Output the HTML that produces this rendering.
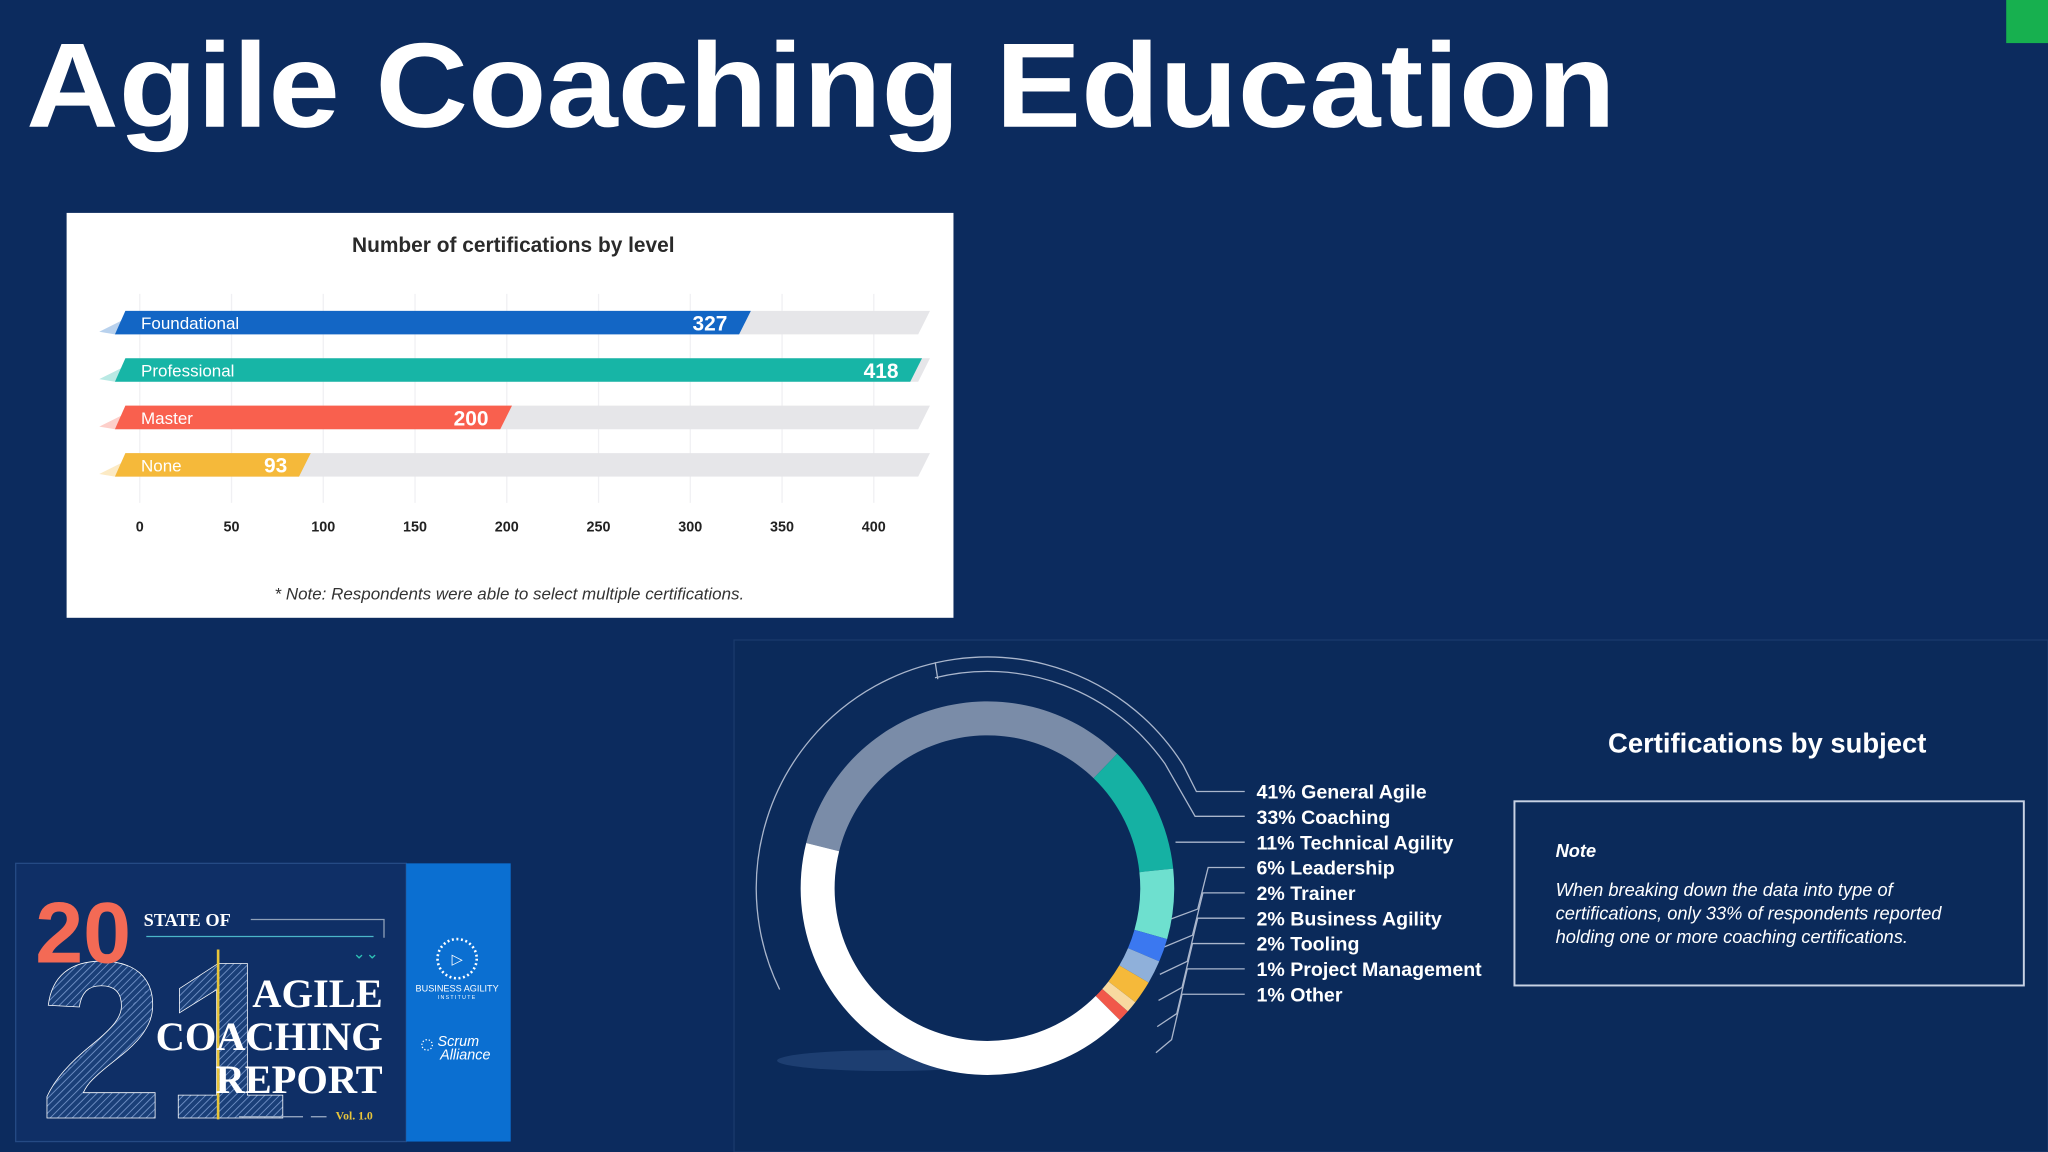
<!DOCTYPE html>
<html><head><meta charset="utf-8">
<style>
html,body{margin:0;padding:0;background:#0c2b5e;overflow:hidden}
svg{display:block}
text{font-family:"Liberation Sans",sans-serif}
</style></head>
<body>
<svg id="root" width="2048" height="1152" viewBox="0 0 1568 882" xmlns="http://www.w3.org/2000/svg">
  <defs>
    <pattern id="stripes" width="4" height="4" patternUnits="userSpaceOnUse" patternTransform="rotate(45)">
      <rect width="4" height="4" fill="#1a3f78"/>
      <line x1="0" y1="0" x2="0" y2="4" stroke="#6f8fc4" stroke-width="1.4"/>
    </pattern>
  </defs>
  <rect x="0" y="0" width="1568" height="882" fill="#0c2b5e"/>
  <rect x="1536" y="0" width="32" height="33" fill="#17b04f"/>
  <text x="20" y="97" font-size="92" font-weight="700" fill="#ffffff" textLength="1217" lengthAdjust="spacingAndGlyphs">Agile Coaching Education</text>

  <rect x="562" y="490" width="1006" height="392" fill="#0b2a5a" stroke="#1a3a6c" stroke-width="1"/>

  <g>
    <rect x="51" y="163" width="679" height="310" fill="#ffffff"/>
    <text x="393" y="193" font-size="16" font-weight="700" fill="#2a2a2a" text-anchor="middle">Number of certifications by level</text>
    <g id="grid"></g>
    <g id="bars"></g>
    <g id="ticks"></g>
    <text x="390" y="459" font-size="13" font-style="italic" fill="#333" text-anchor="middle">* Note: Respondents were able to select multiple certifications.</text>
  </g>

  <g>
    <ellipse cx="680" cy="812" rx="85" ry="8" fill="#2a4d80" opacity="0.6"/>
    <g id="decor" fill="none" stroke="#aab6cc" stroke-width="1"></g>
    <g id="slices"></g>
    <g id="labels"></g>
  </g>
  <text x="1353" y="576" font-size="21" font-weight="700" fill="#ffffff" text-anchor="middle">Certifications by subject</text>
  <g>
    <rect x="1159.5" y="613.5" width="390" height="141" fill="none" stroke="#c8d2e4" stroke-width="1.5"/>
    <text x="1191" y="656" font-size="14" font-weight="700" font-style="italic" fill="#ffffff">Note</text>
    <text font-size="14" font-style="italic" fill="#ffffff">
      <tspan x="1191" y="686">When breaking down the data into type of</tspan>
      <tspan x="1191" y="704">certifications, only 33% of respondents reported</tspan>
      <tspan x="1191" y="722">holding one or more coaching certifications.</tspan>
    </text>
  </g>

  <g>
    <rect x="12" y="661" width="299" height="213" fill="#0f2f66" stroke="#254a84" stroke-width="1"/>
    <rect x="311" y="661" width="80" height="213" fill="#0b6fd1"/>
    <text x="30" y="856" font-size="172" font-weight="700" fill="url(#stripes)" stroke="#ffffff" stroke-width="0.6">21</text>
    <line x1="167" y1="727" x2="167" y2="857" stroke="#e8c53a" stroke-width="2"/>
    <text x="27" y="737" font-size="66" font-weight="700" fill="#f36a55">20</text>
    <text x="110" y="709" font-size="14" font-weight="700" fill="#ffffff" style="font-family:'Liberation Serif',serif">STATE OF</text>
    <polyline points="192,704 294,704 294,718" fill="none" stroke="#8fa0b8" stroke-width="1"/>
    <line x1="112" y1="717" x2="286" y2="717" stroke="#4bb6c9" stroke-width="1"/>
    <text x="280" y="734" font-size="12" fill="#2ec4b6" text-anchor="middle">⌄⌄</text>
    <g font-size="31" font-weight="700" fill="#ffffff" text-anchor="end">
      <text x="293" y="771" style="font-family:'Liberation Serif',serif">AGILE</text>
      <text x="293" y="804" style="font-family:'Liberation Serif',serif">COACHING</text>
      <text x="293" y="837" style="font-family:'Liberation Serif',serif">REPORT</text>
    </g>
    <line x1="183" y1="855" x2="232" y2="855" stroke="#a0b0c8" stroke-width="1"/>
    <line x1="238" y1="855" x2="250" y2="855" stroke="#a0b0c8" stroke-width="1"/>
    <text x="257" y="857" font-size="9" font-weight="700" fill="#e8c53a" style="font-family:'Liberation Serif',serif">Vol. 1.0</text>
    <circle cx="350" cy="734" r="15" fill="none" stroke="#ffffff" stroke-width="2" stroke-dasharray="1.5 2"/>
    <text x="350" y="738" font-size="11" fill="#ffffff" text-anchor="middle">▷</text>
    <text x="350" y="759" font-size="7" fill="#ffffff" text-anchor="middle">BUSINESS AGILITY</text>
    <text x="350" y="765" font-size="4" fill="#ffffff" text-anchor="middle" letter-spacing="1">INSTITUTE</text>
    <text x="335" y="801" font-size="11" font-style="italic" fill="#ffffff">Scrum</text>
    <text x="337" y="811" font-size="11" font-style="italic" fill="#ffffff">Alliance</text>
    <circle cx="327" cy="800" r="4" fill="none" stroke="#ffffff" stroke-width="1" stroke-dasharray="1 1.5"/>
  </g>

<script>
// ---- bar chart data ----
var levelNames = ["Foundational", "Professional", "Master", "None"];
var levelValues = [327, 418, 200, 93];
var levelColors = ["#1366c5", "#17b5a6", "#f9604e", "#f5b93a"];
var tickValues = [0, 50, 100, 150, 200, 250, 300, 350, 400];

// ---- donut data ----
var subjectNames = ["Coaching", "Technical Agility", "Leadership", "Trainer", "Business Agility", "Tooling", "Project Management", "Other", "General Agile"];
var subjectValues = [33, 11, 6, 2, 2, 2, 1, 1, 41];
var subjectColors = ["#7a8ca8", "#15b1a3", "#6ee0cf", "#3b78f0", "#8fb0da", "#f5b93a", "#f8d9a0", "#f1584a", "#ffffff"];
var legendLabels = ["41% General Agile", "33% Coaching", "11% Technical Agility", "6% Leadership", "2% Trainer", "2% Business Agility", "2% Tooling", "1% Project Management", "1% Other"];

var NS = "http://www.w3.org/2000/svg";
function mk(tag, attrs, parent) {
  var e = document.createElementNS(NS, tag);
  for (var k in attrs) e.setAttribute(k, attrs[k]);
  parent.appendChild(e);
  return e;
}

function tickX(v) { return 107 + v * 1.405; }
function barX(v) { return 100 + v * 1.44; }
function rowY(i) { return 247 + i * 36.3; }

var grid = document.getElementById('grid');
var ticks = document.getElementById('ticks');
tickValues.forEach(function (t) {
  var l = mk('line', {x1: tickX(t), x2: tickX(t), y1: 225, y2: 385, stroke: '#f0f0f3', 'stroke-width': 1}, grid);
  
  
  var tx = mk('text', {x: tickX(t), y: 407, 'font-size': 11, 'font-weight': 700, fill: '#222', 'text-anchor': 'middle'}, ticks);
  tx.textContent = t;
  
  
});

var bars = document.getElementById('bars');
var trackEnd = 712;
levelNames.forEach(function (name, i) {
  var cy = rowY(i), top = cy - 9, bot = cy + 9;
  var x0 = 88;
  var tr = mk('polygon', {points: (x0 + 8) + ',' + top + ' ' + trackEnd + ',' + top + ' ' + (trackEnd - 9) + ',' + bot + ' ' + x0 + ',' + bot, fill: '#e6e6e9'}, bars);
  
  
  var tail = mk('polygon', {points: (x0 - 12) + ',' + (bot - 2) + ' ' + (x0 + 6) + ',' + (top + 7) + ' ' + x0 + ',' + bot, fill: levelColors[i], opacity: 0.3}, bars);
  
  
  var xe = barX(levelValues[i]);
  var b = mk('polygon', {points: (x0 + 8) + ',' + top + ' ' + (xe + 4) + ',' + top + ' ' + (xe - 5) + ',' + bot + ' ' + x0 + ',' + bot, fill: levelColors[i]}, bars);
  
  
  var lt = mk('text', {x: 108, y: cy + 5, 'font-size': 13, fill: '#ffffff'}, bars);
  lt.textContent = name;
  
  
  var vt = mk('text', {x: xe - 14, y: cy + 6, 'font-size': 16, 'font-weight': 700, fill: '#ffffff', 'text-anchor': 'end'}, bars);
  vt.textContent = levelValues[i];
  
  
});

var cx = 756, cy0 = 680, rO = 143, rI = 117, startDeg = 284;
function pt(r, deg) {
  var a = (deg - 90) * Math.PI / 180;
  return [cx + r * Math.cos(a), cy0 + r * Math.sin(a)];
}
var total = subjectValues.reduce(function (a, b) { return a + b; }, 0);
function angleOf(v) { return v / total * 360; }
var slices = document.getElementById('slices');
var acc = startDeg;
subjectValues.forEach(function (v, i) {
  var a0 = acc, a1 = acc + angleOf(v);
  acc = a1;
  var p0 = pt(rO, a0), p1 = pt(rO, a1), p2 = pt(rI, a1), p3 = pt(rI, a0);
  var large = (a1 - a0) > 180 ? 1 : 0;
  var d = 'M' + p0 + ' A' + rO + ',' + rO + ' 0 ' + large + ' 1 ' + p1 + ' L' + p2 + ' A' + rI + ',' + rI + ' 0 ' + large + ' 0 ' + p3 + ' Z';
  var s = mk('path', {d: d, fill: subjectColors[i]}, slices);
  
  
});

var decor = document.getElementById('decor');
function arcPath(r, a0, a1) {
  var p0 = pt(r, a0), p1 = pt(r, a1);
  var large = ((a1 - a0 + 360) % 360) > 180 ? 1 : 0;
  return 'M' + p0 + ' A' + r + ',' + r + ' 0 ' + large + ' 1 ' + p1;
}
var arc1 = mk('path', {d: arcPath(177, 244, 58) + ' L916,606 L953,606'}, decor);


var arc3 = mk('path', {d: 'M716,507 L718,520 ' + arcPath(166, 346, 55) + ' L915,625 L953,625'}, decor);



var labels = document.getElementById('labels');
legendLabels.forEach(function (lab, i) {
  var ly = 606 + i * 19.4;
  if (i >= 2) {
    var ln;
    if (i === 2) {
      ln = mk('path', {d: 'M953,' + ly + ' L900,' + ly}, decor);
    } else {
      var bendX = 925 - (i - 3) * 4;
      var endY = 676 + (i - 3) * 20;
      var endX = 898 - (i - 3) * 1;
      ln = mk('path', {d: 'M953,' + ly + ' L' + bendX + ',' + ly + ' L' + (bendX - 8) + ',' + (endY + 20) + ' L' + (endX - 8) + ',' + (endY + 30)}, decor);
    }
    
    
  }
  var t = mk('text', {x: 962, y: ly + 5.5, 'font-size': 15, 'font-weight': 700, fill: '#ffffff'}, labels);
  t.textContent = lab;
  
  
});
</script>
</svg>
</body></html>
